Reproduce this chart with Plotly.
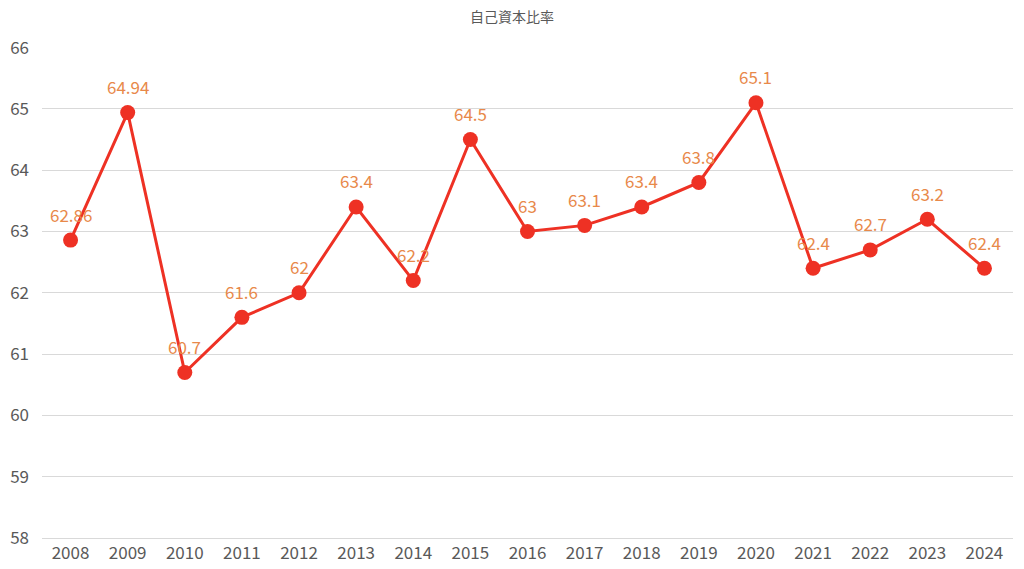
import plotly.graph_objects as go

years = [str(y) for y in range(2008, 2025)]
ratio = [62.86, 64.94, 60.7, 61.6, 62, 63.4, 62.2, 64.5, 63, 63.1, 63.4, 63.8, 65.1, 62.4, 62.7, 63.2, 62.4]
labels = [f"{v:g}" for v in ratio]
title = "自己資本比率"

fig = go.Figure(go.Scatter(
    x=years, y=ratio, mode="lines+markers",
    line=dict(color="#EE3124", width=3),
    marker=dict(color="#EE3124", size=15),
    cliponaxis=False, hoverinfo="skip"))

for i, (y, t) in enumerate(zip(ratio, labels)):
    fig.add_annotation(x=i, y=y, xref="x", yref="y", text=t, showarrow=False, yshift=26,
                       font=dict(family="Noto Sans CJK JP", size=17, color="#E8894A"))

fig.update_layout(
    width=1024, height=569,
    margin=dict(l=42, r=11, t=47, b=31, autoexpand=False),
    paper_bgcolor="white", plot_bgcolor="white",
    showlegend=False,
    title=dict(text=title, x=0.5, xanchor="center", y=0.97, yanchor="middle",
               font=dict(family="Noto Sans CJK JP", size=14, color="#595959")),
    font=dict(family="Noto Sans CJK JP", color="#595959"),
)
fig.update_xaxes(type="category", range=[-0.5, len(years) - 0.5], autorange=False,
                 showgrid=False, showline=True, linecolor="#D9D9D9", linewidth=1,
                 zeroline=False, automargin=False,
                 tickfont=dict(size=17, color="#595959"), ticklabelstandoff=0)
fig.update_yaxes(range=[58, 66.01], autorange=False, dtick=1, tick0=58,
                 showgrid=True, gridcolor="#D9D9D9", gridwidth=1,
                 zeroline=False, showline=False, automargin=False,
                 tickfont=dict(size=17, color="#595959"), ticklabelstandoff=12)
fig.write_html("out.html")
